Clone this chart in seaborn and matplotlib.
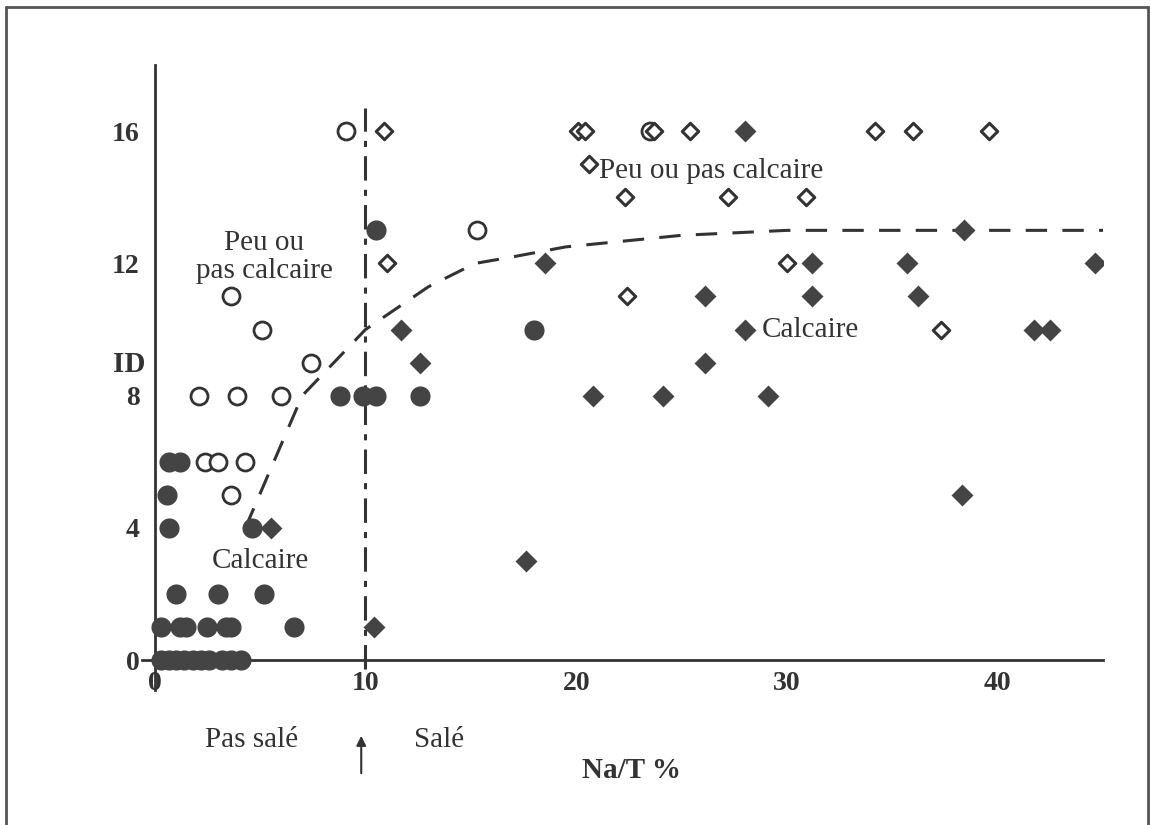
import numpy as np
import pandas as pd
import seaborn as sns
import matplotlib.pyplot as plt
from matplotlib.lines import Line2D

# calcaire, pas salé (filled circles)
cal_ns_x = [0.3, 0.7, 1.0, 1.4, 1.8, 2.2, 2.6, 3.2, 3.6, 4.1,
            0.3, 1.2, 1.5, 2.5, 3.4, 3.6, 6.6,
            1.0, 3.0, 5.2,
            0.7, 4.6, 0.6, 0.7, 1.2,
            8.8, 9.9, 10.5, 12.6, 18.0, 10.5]
cal_ns_y = [0, 0, 0, 0, 0, 0, 0, 0, 0, 0,
            1, 1, 1, 1, 1, 1, 1,
            2, 2, 2,
            4, 4, 5, 6, 6,
            8, 8, 8, 8, 10, 13]
# peu ou pas calcaire, pas salé (open circles)
pc_ns_x = [3.6, 2.4, 3.0, 4.3, 2.1, 3.9, 6.0, 7.4, 5.1, 3.6, 15.3, 9.1, 23.5]
pc_ns_y = [5, 6, 6, 6, 8, 8, 8, 9, 10, 11, 13, 16, 16]
# calcaire, salé (filled diamonds)
cal_s_x = [10.4, 17.6, 5.5, 38.3, 20.8, 24.1, 29.1, 12.6, 26.1, 11.7, 28.0, 41.7, 42.5,
           26.1, 31.2, 36.2, 18.5, 31.2, 35.7, 44.6, 38.4, 28.0]
cal_s_y = [1, 3, 4, 5, 8, 8, 8, 9, 9, 10, 10, 10, 10,
           11, 11, 11, 12, 12, 12, 12, 13, 16]
# peu ou pas calcaire, salé (open diamonds)
pc_s_x = [37.3, 22.4, 11.0, 30.0, 22.3, 27.2, 30.9, 20.6,
          10.9, 20.1, 20.4, 23.7, 25.4, 34.2, 36.0, 39.6]
pc_s_y = [10, 11, 12, 12, 14, 14, 14, 15,
          16, 16, 16, 16, 16, 16, 16, 16]

# limit curve (dashed) and salinity threshold (dash-dot)
curve_x = [4.3, 7.0, 10.0, 13.0, 15.2, 17.0, 19.5, 25.0, 30.0, 45.0]
curve_y = [4.0, 8.0, 10.0, 11.3, 12.0, 12.2, 12.5, 12.85, 13.0, 13.0]
seuil_x = [10.0, 10.0]
seuil_y = [-0.25, 16.7]

sns.set_style("white")
plt.rcParams['font.family'] = ['Liberation Serif', 'DejaVu Serif']

fig = plt.figure(figsize=(11.51, 8.25), dpi=100)
ax = fig.add_axes([0.1234, 0.1636, 0.835, 0.7576])

dark = '#444444'
sns.scatterplot(x=cal_ns_x, y=cal_ns_y, marker='o', s=210, color=dark,
                edgecolor=dark, linewidth=0, ax=ax, zorder=3, clip_on=False)
sns.scatterplot(x=pc_ns_x, y=pc_ns_y, marker='o', s=150, facecolor='white',
                edgecolor='#333333', linewidth=2.0, ax=ax, zorder=3)
sns.scatterplot(x=cal_s_x, y=cal_s_y, marker='D', s=125, color=dark,
                edgecolor=dark, linewidth=0, ax=ax, zorder=3)
sns.scatterplot(x=pc_s_x, y=pc_s_y, marker='D', s=70, facecolor='white',
                edgecolor='#333333', linewidth=2.2, ax=ax, zorder=3)

ax.plot(curve_x, curve_y, color='#333333', lw=2.2, dashes=(7, 5), zorder=2)
ax.plot(seuil_x, seuil_y, color='#333333', lw=2.2, dashes=(8, 3, 2, 3),
        zorder=2, clip_on=False)

ax.set_xlim(-0.6, 45)
ax.set_ylim(-0.9, 18.0)
for side in ['top', 'right']:
    ax.spines[side].set_visible(False)
ax.spines['left'].set_position(('data', 0))
ax.spines['bottom'].set_position(('data', 0))
for side in ['left', 'bottom']:
    ax.spines[side].set_color('#333333')
    ax.spines[side].set_linewidth(2)
ax.set_xticks([0, 10, 20, 30, 40])
ax.set_yticks([0, 4, 8, 12, 16])
ax.tick_params(direction='inout', length=16, width=1.5, color='#333333',
               labelsize=20, labelcolor='#333333')
ax.tick_params(axis='x', pad=0)
ax.tick_params(axis='y', pad=3)
for lab in ax.get_xticklabels() + ax.get_yticklabels():
    lab.set_fontweight('bold')

tk = dict(fontsize=21, color='#333333')
ax.text(5.2, 12.2, "Peu ou\npas calcaire", ha='center', va='center',
        linespacing=1.1, **tk)
ax.text(5.0, 3.0, "Calcaire", ha='center', va='center', **tk)
ax.text(21.1, 14.8, "Peu ou pas calcaire", ha='left', va='center', **tk)
ax.text(28.8, 10.0, "Calcaire", ha='left', va='center', **tk)
ax.text(4.6, -2.42, "Pas salé", ha='center', va='center', clip_on=False, **tk)
ax.text(13.5, -2.42, "Salé", ha='center', va='center', clip_on=False, **tk)
ax.text(22.6, -3.33, "Na/T %", ha='center', va='center', fontweight='bold',
        clip_on=False, **tk)
ax.text(-1.2, 8.94, "ID", ha='center', va='center', fontweight='bold',
        clip_on=False, **tk)
ax.annotate("", xy=(9.8, -2.2), xytext=(9.8, -3.5),
            arrowprops=dict(arrowstyle='-|>', color='#333333', lw=1.5,
                            mutation_scale=14), annotation_clip=False)

# frame around the figure
for xs, ys in [([0.005, 0.005], [0.0, 0.991]), ([0.005, 0.997], [0.991, 0.991]),
               ([0.997, 0.997], [0.0, 0.991])]:
    fig.add_artist(Line2D(xs, ys, color='#555555', lw=2))

fig.savefig("out.png", dpi=100)
